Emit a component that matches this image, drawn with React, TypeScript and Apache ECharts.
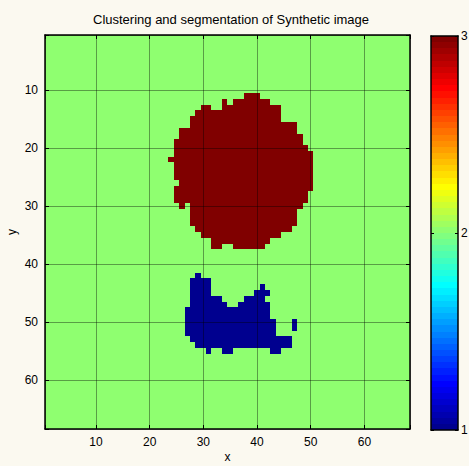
import React, { useEffect, useRef } from 'react';
import * as echarts from 'echarts';

// Image is 68 x 68 cells; every cell is level 2 except the two segmented blobs.
const N_COLS = 68;
const N_ROWS = 68;
const BACKGROUND_LEVEL = 2;
const RED_LEVEL = 3;
const BLUE_LEVEL = 1;

// Runs of the dark-red cluster: [row, firstCol, lastCol]
const redRuns: number[][] = [
  [11, 38, 40],
  [12, 34, 34], [12, 36, 42],
  [13, 30, 31], [13, 34, 44],
  [14, 29, 44],
  [15, 28, 44],
  [16, 28, 47],
  [17, 26, 47],
  [18, 26, 48],
  [19, 25, 48],
  [20, 25, 49],
  [21, 25, 50],
  [22, 24, 50],
  [23, 25, 50],
  [24, 25, 50],
  [25, 25, 50],
  [26, 26, 50],
  [27, 25, 50],
  [28, 25, 49],
  [29, 25, 49],
  [30, 26, 26], [30, 28, 48],
  [31, 28, 47],
  [32, 28, 47],
  [33, 28, 47],
  [34, 29, 46],
  [35, 30, 44],
  [36, 32, 42],
  [37, 32, 33], [37, 36, 41],
];

// Runs of the dark-blue cluster: [row, firstCol, lastCol]
const blueRuns: number[][] = [
  [42, 29, 29],
  [43, 28, 31],
  [44, 28, 31], [44, 41, 41],
  [45, 28, 31], [45, 40, 42],
  [46, 28, 33], [46, 38, 41],
  [47, 28, 34], [47, 37, 42],
  [48, 27, 42],
  [49, 27, 42],
  [50, 27, 43], [50, 47, 47],
  [51, 27, 43], [51, 47, 47],
  [52, 27, 43],
  [53, 28, 46],
  [54, 29, 46],
  [55, 31, 31], [55, 34, 35], [55, 43, 44],
];

const xTickLabels = [10, 20, 30, 40, 50, 60];
const yTickLabels = [10, 20, 30, 40, 50, 60];
const colorbarTickLabels = [1, 2, 3];
const CLIM = [1, 3];
const COLORMAP_SIZE = 64;

const FONT = 'Liberation Sans, Arial, Helvetica, sans-serif';

// MATLAB jet colormap, row index 1..64
function jet(idx: number): string {
  const t = idx / COLORMAP_SIZE;
  const cl = (v: number) => Math.max(0, Math.min(1, v));
  const r = cl(1.5 - Math.abs(4 * t - 3));
  const g = cl(1.5 - Math.abs(4 * t - 2));
  const b = cl(1.5 - Math.abs(4 * t - 1));
  return `rgb(${Math.round(r * 255)},${Math.round(g * 255)},${Math.round(b * 255)})`;
}
function levelColor(v: number): string {
  const idx = Math.min(COLORMAP_SIZE, Math.floor(((v - CLIM[0]) / (CLIM[1] - CLIM[0])) * COLORMAP_SIZE) + 1);
  return jet(idx);
}

// [x0, x1, y0, y1, level]
const imageData: number[][] = [
  [1, N_COLS, 1, N_ROWS, BACKGROUND_LEVEL],
  ...redRuns.map(([r, a, b]) => [a, b, r, r, RED_LEVEL]),
  ...blueRuns.map(([r, a, b]) => [a, b, r, r, BLUE_LEVEL]),
];

// colorbar segments [lo, hi, colormapIndex]
const colorbarData: number[][] = [];
for (let i = 1; i <= COLORMAP_SIZE; i++) {
  const step = (CLIM[1] - CLIM[0]) / COLORMAP_SIZE;
  colorbarData.push([CLIM[0] + (i - 1) * step, CLIM[0] + i * step, i]);
}

function snappedRect(p0: number[], p1: number[], fill: string) {
  const xa = Math.round(Math.min(p0[0], p1[0]));
  const xb = Math.round(Math.max(p0[0], p1[0]));
  const ya = Math.round(Math.min(p0[1], p1[1]));
  const yb = Math.round(Math.max(p0[1], p1[1]));
  return {
    type: 'rect',
    shape: { x: xa, y: ya, width: xb - xa, height: yb - ya },
    style: { fill },
  };
}

export default function App() {
  const ref = useRef<HTMLDivElement>(null);
  useEffect(() => {
    if (!ref.current) return;
    const chart = echarts.init(ref.current, null, { renderer: 'svg' });
    const borderLine = { show: true, onZero: false, lineStyle: { color: '#000', width: 1.5 } };
    const gridSplit = { show: true, lineStyle: { color: 'rgba(0,0,0,0.38)', width: 1 } };
    const labelStyle = { color: '#000', fontSize: 12, fontFamily: FONT };
    chart.setOption({
      animation: false,
      backgroundColor: '#fbf9f0',
      title: {
        text: 'Clustering and segmentation of Synthetic image',
        left: 88,
        top: 8,
        textStyle: { color: '#000', fontSize: 13, fontWeight: 'normal', fontFamily: FONT },
      },
      grid: [
        { left: 45, top: 35, width: 365, height: 394, containLabel: false, outerBoundsMode: 'none' },
        { left: 431, top: 36, width: 27, height: 394, containLabel: false, outerBoundsMode: 'none' },
      ],
      xAxis: [
        {
          gridIndex: 0, type: 'value', min: 0.5, max: N_COLS + 0.5, splitNumber: 7, position: 'bottom', z: 10,
          axisLine: borderLine,
          axisTick: { show: true, inside: true, length: 4, lineStyle: { color: '#000' } },
          splitLine: gridSplit,
          axisLabel: { ...labelStyle, margin: 7, formatter: (v: number) => (xTickLabels.includes(v) ? String(v) : '') },
          name: 'x', nameLocation: 'middle', nameGap: 22, nameMoveOverlap: false, nameTextStyle: labelStyle,
        },
        {
          gridIndex: 0, type: 'value', min: 0.5, max: N_COLS + 0.5, splitNumber: 7, position: 'top', z: 10,
          axisLine: borderLine, axisTick: { show: true, inside: true, length: 4, lineStyle: { color: '#000' } },
          splitLine: { show: false }, axisLabel: { show: false },
        },
        {
          gridIndex: 1, type: 'value', min: 0, max: 1, position: 'bottom', z: 10,
          axisLine: borderLine, axisTick: { show: false }, splitLine: { show: false }, axisLabel: { show: false },
        },
        {
          gridIndex: 1, type: 'value', min: 0, max: 1, position: 'top', z: 10,
          axisLine: borderLine, axisTick: { show: false }, splitLine: { show: false }, axisLabel: { show: false },
        },
      ],
      yAxis: [
        {
          gridIndex: 0, type: 'value', inverse: true, min: 0.5, max: N_ROWS + 0.5, splitNumber: 7, position: 'left', z: 10,
          axisLine: borderLine,
          axisTick: { show: true, inside: true, length: 4, lineStyle: { color: '#000' } },
          splitLine: gridSplit,
          axisLabel: { ...labelStyle, margin: 7, formatter: (v: number) => (yTickLabels.includes(v) ? String(v) : '') },
          name: 'y', nameLocation: 'middle', nameGap: 27, nameRotate: 90, nameMoveOverlap: false, nameTextStyle: labelStyle,
        },
        {
          gridIndex: 0, type: 'value', inverse: true, min: 0.5, max: N_ROWS + 0.5, splitNumber: 7, position: 'right', z: 10,
          axisLine: borderLine, axisTick: { show: true, inside: true, length: 4, lineStyle: { color: '#000' } },
          splitLine: { show: false }, axisLabel: { show: false },
        },
        {
          gridIndex: 1, type: 'value', min: CLIM[0], max: CLIM[1], interval: 1, position: 'right', z: 10,
          axisLine: borderLine,
          axisTick: { show: true, inside: true, length: 3, lineStyle: { color: '#000' } },
          splitLine: { show: false },
          axisLabel: { ...labelStyle, margin: 3, formatter: (v: number) => (colorbarTickLabels.includes(v) ? String(v) : '') },
        },
        {
          gridIndex: 1, type: 'value', min: CLIM[0], max: CLIM[1], interval: 1, position: 'left', z: 10,
          axisLine: borderLine,
          axisTick: { show: true, inside: true, length: 3, lineStyle: { color: '#000' } },
          splitLine: { show: false }, axisLabel: { show: false },
        },
      ],
      series: [
        {
          type: 'custom',
          xAxisIndex: 0,
          yAxisIndex: 0,
          z: 1,
          clip: true,
          encode: { x: [0, 1], y: [2, 3] },
          data: imageData,
          renderItem: (params: any, api: any) => {
            const x0 = api.value(0), x1 = api.value(1), y0 = api.value(2), y1 = api.value(3), v = api.value(4);
            const p0 = api.coord([x0 - 0.5, y0 - 0.5]);
            const p1 = api.coord([x1 + 0.5, y1 + 0.5]);
            return snappedRect(p0, p1, levelColor(v));
          },
        },
        {
          type: 'custom',
          xAxisIndex: 2,
          yAxisIndex: 2,
          z: 1,
          encode: { y: [0, 1] },
          data: colorbarData,
          renderItem: (params: any, api: any) => {
            const lo = api.value(0), hi = api.value(1), idx = api.value(2);
            const p0 = api.coord([0, lo]);
            const p1 = api.coord([1, hi]);
            return snappedRect(p0, p1, jet(idx));
          },
        },
      ],
    });
    return () => chart.dispose();
  }, []);
  return <div ref={ref} style={{ position: 'fixed', left: 0, top: 0, width: 469, height: 466 }} />;
}
